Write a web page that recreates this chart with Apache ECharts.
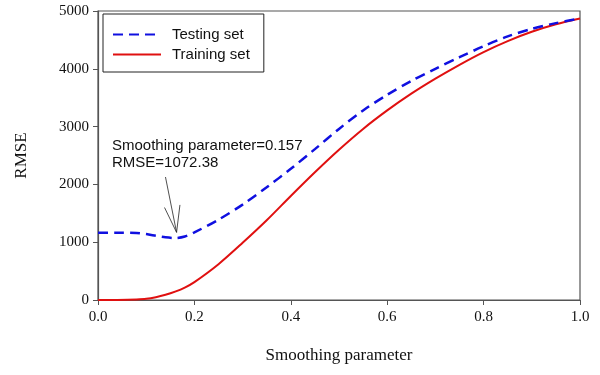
<!DOCTYPE html>
<html>
<head>
<meta charset="utf-8">
<script src="https://cdn.jsdelivr.net/npm/echarts@6/dist/echarts.min.js"></script>
<style>html,body{margin:0;padding:0;background:#fff}#c{width:600px;height:375px}</style>
</head>
<body>
<div id="c"></div>
<script>
var testX = [0.00,0.04,0.08,0.10,0.12,0.14,0.16,0.18,0.20,0.25,0.30,0.35,0.40,0.45,0.50,0.55,0.60,0.65,0.70,0.75,0.80,0.85,0.90,0.95,1.00];
var testY = [1165,1165,1158,1140,1112,1085,1072,1098,1170,1390,1650,1950,2270,2610,2960,3280,3550,3790,4000,4200,4390,4560,4690,4790,4870];
var trainX = [0.00,0.04,0.08,0.10,0.12,0.14,0.16,0.18,0.20,0.25,0.30,0.35,0.40,0.45,0.50,0.55,0.60,0.65,0.70,0.75,0.80,0.85,0.90,0.95,1.00];
var trainY = [0,2,10,20,48,90,145,215,310,620,990,1380,1800,2210,2600,2960,3280,3570,3830,4070,4290,4480,4640,4770,4870];
var xTicks = [0.0,0.2,0.4,0.6,0.8,1.0];
var yTicks = [0,1000,2000,3000,4000,5000];
var annoText1 = 'Smoothing parameter=0.157';
var annoText2 = 'RMSE=1072.38';
var arrowStart = [0.140, 2128];
var arrowTip = [0.163, 1170];
var headL = [0.138, 1600];
var headR = [0.170, 1645];

function pairs(xs, ys){ return xs.map(function(x,i){return [x, ys[i]];}); }

var chart = echarts.init(document.getElementById('c'));
var serif = '"Liberation Serif","Times New Roman",serif';
var sans = '"Liberation Sans",Arial,sans-serif';
chart.setOption({
  animation: false,
  backgroundColor: '#fff',
  grid: {left: 98, right: 20, top: 11, bottom: 75, show: true, borderColor: '#555', borderWidth: 1.2, backgroundColor: 'transparent'},
  legend: {
    left: 103, top: 14, orient: 'vertical',
    data: ['Testing set', 'Training set'],
    itemWidth: 48, itemHeight: 12, itemGap: 5,
    padding: [13, 14, 10, 9],
    borderColor: '#222', borderWidth: 1,
    itemStyle: {opacity: 0},
    textStyle: {fontFamily: sans, fontSize: 15, color: '#111', padding: [0,0,0,6]}
  },
  xAxis: {
    type: 'value', min: xTicks[0], max: xTicks[xTicks.length-1], interval: 0.2,
    name: 'Smoothing parameter', nameLocation: 'middle', nameGap: 47,
    nameTextStyle: {fontFamily: serif, fontSize: 17, color: '#111'},
    axisLine: {show: true, lineStyle: {color: '#555', width: 1.2}},
    axisTick: {show: true, inside: false, length: 5, lineStyle: {color: '#555'}},
    axisLabel: {fontFamily: serif, fontSize: 15, color: '#111', margin: 10, formatter: function(v){return v.toFixed(1);}},
    splitLine: {show: false}
  },
  yAxis: {
    type: 'value', min: yTicks[0], max: yTicks[yTicks.length-1], interval: 1000,
    name: 'RMSE', nameLocation: 'middle', nameGap: 68, nameRotate: 90,
    nameTextStyle: {fontFamily: serif, fontSize: 17, color: '#111'},
    axisLine: {show: true, lineStyle: {color: '#555', width: 1.2}},
    axisTick: {show: true, inside: false, length: 5, lineStyle: {color: '#555'}},
    axisLabel: {fontFamily: serif, fontSize: 15, color: '#111', margin: 9, formatter: function(v){return String(v);}},
    splitLine: {show: false}
  },
  series: [
    {
      name: 'Testing set', type: 'line', data: pairs(testX, testY), smooth: 0.3,
      symbol: 'none', itemStyle: {color: '#1010e0'},
      lineStyle: {color: '#1010e0', width: 2.5, type: [10, 6]},
      z: 3,
      markLine: {
        silent: true, symbol: ['none', 'none'], animation: false,
        label: {show: false},
        lineStyle: {color: '#222', width: 0.8, type: 'solid'},
        data: [
          [{coord: arrowStart}, {coord: arrowTip}],
          [{coord: headL}, {coord: arrowTip}],
          [{coord: headR}, {coord: arrowTip}]
        ]
      }
    },
    {
      name: 'Training set', type: 'line', data: pairs(trainX, trainY), smooth: 0.3,
      symbol: 'none', itemStyle: {color: '#e01010'},
      lineStyle: {color: '#e01010', width: 2},
      z: 2
    }
  ],
  graphic: [
    {type: 'text', left: 112, top: 138, style: {text: annoText1, font: '15px ' + sans, fill: '#111'}},
    {type: 'text', left: 112, top: 155, style: {text: annoText2, font: '15px ' + sans, fill: '#111'}}
  ]
});
</script>
</body>
</html>
